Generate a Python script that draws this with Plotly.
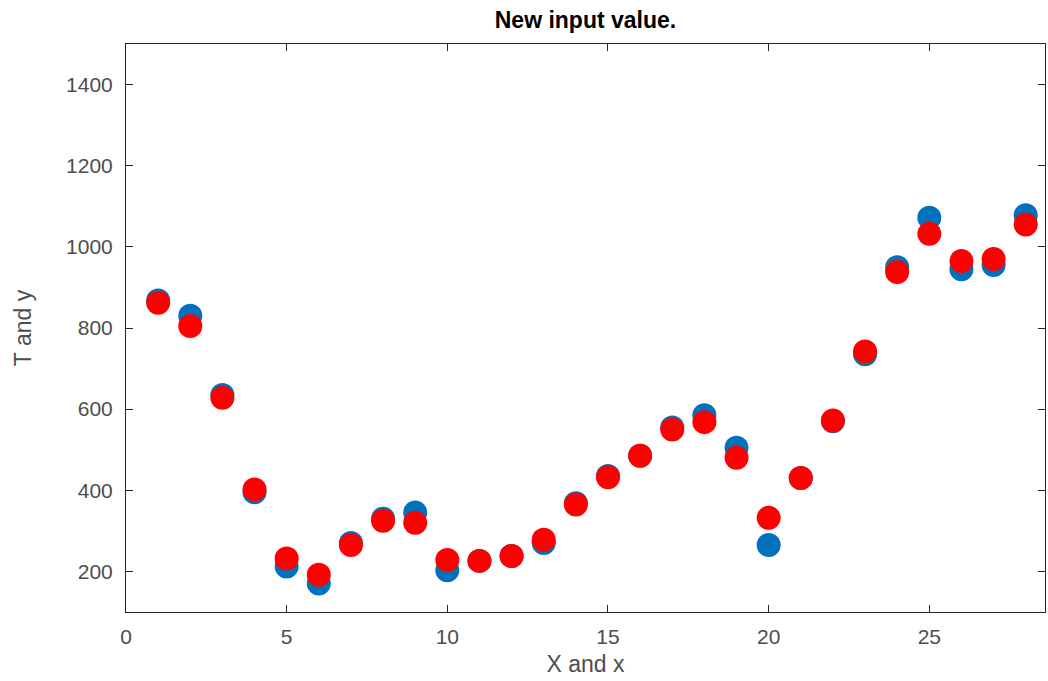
import plotly.graph_objects as go

x_vals = list(range(1, 29))
T_vals = [868, 830, 635, 395, 212, 170, 270, 330, 345, 203, 226, 238, 270, 368,
          435, 485, 555, 585, 505, 265, 430, 570, 735, 950, 1072, 945, 955, 1078]
y_vals = [862, 805, 628, 402, 232, 192, 265, 325, 320, 228, 226, 238, 278, 365,
          432, 485, 550, 568, 480, 332, 430, 572, 742, 938, 1032, 965, 970, 1055]
x_ticks = [0, 5, 10, 15, 20, 25]
y_ticks = [200, 400, 600, 800, 1000, 1200, 1400]

FONT = "Liberation Sans, Arial, Helvetica"

fig = go.Figure()
fig.add_trace(go.Scatter(x=x_vals, y=T_vals, mode="markers", name="T",
                         marker=dict(color="#0072BD", size=24, line=dict(width=0))))
fig.add_trace(go.Scatter(x=x_vals, y=y_vals, mode="markers", name="y",
                         marker=dict(color="#FF0000", size=24, line=dict(width=0))))

axis_common = dict(showgrid=False, zeroline=False, showline=True, linecolor="#262626",
                   linewidth=1, mirror="ticks", ticks="inside", ticklen=7,
                   tickcolor="#262626",
                   tickfont=dict(family=FONT, size=21, color="#4d4d4d"))

fig.update_layout(
    width=1048, height=681,
    margin=dict(l=126, r=3, t=44, b=69),
    paper_bgcolor="white", plot_bgcolor="white",
    showlegend=False,
    title=dict(text="<b>New input value.</b>", x=0.5, xanchor="center", xref="paper",
               y=1 - 20 / 681, yref="container", yanchor="middle",
               font=dict(family=FONT, size=23, color="black")),
    xaxis=dict(range=[0, 28.6], tickvals=x_ticks, ticklabelstandoff=6,
               title=dict(text="X and x", standoff=8,
                          font=dict(family=FONT, size=23, color="#4d4d4d")),
               **axis_common),
    yaxis=dict(range=[100, 1500], tickvals=y_ticks, ticklabelstandoff=8,
               title=dict(text="T and y", standoff=28,
                          font=dict(family=FONT, size=23, color="#4d4d4d")),
               **axis_common),
)

fig.write_html("out.html")
